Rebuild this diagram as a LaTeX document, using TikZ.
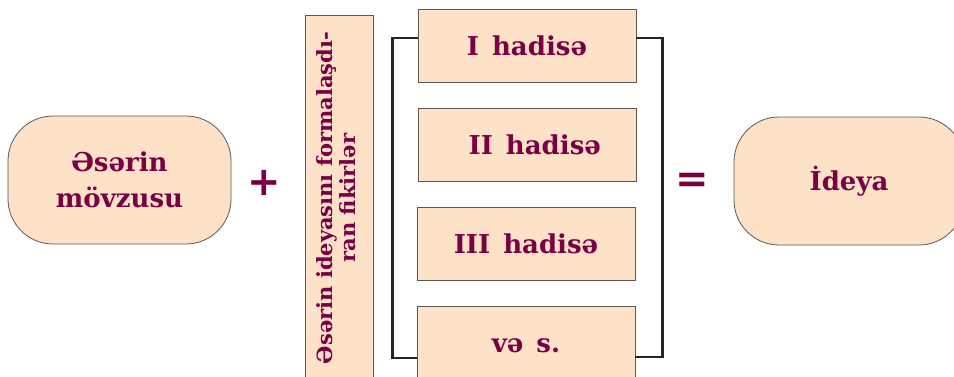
\documentclass[tikz,border=0pt]{standalone}
\usepackage{fontspec}
\setmainfont{DejaVu Serif}
\newfontfamily\symfont{DejaVu Sans}
\definecolor{txt}{RGB}{122,0,68}
\definecolor{peach}{RGB}{253,226,200}
\begin{document}
\begin{tikzpicture}[x=1pt,y=-1pt,
  box/.style={draw=black!65, line width=0.8pt, fill=peach, inner sep=0pt,
    text=txt, font=\bfseries\fontsize{26}{36}\selectfont, align=center},
  rbox/.style={box, rounded corners=45pt},
  evbox/.style={box, minimum width=218pt, minimum height=73pt},
  brk/.style={line width=2.6pt, draw=black!85},
  sym/.style={text=txt, font=\symfont\bfseries\fontsize{40}{40}\selectfont, inner sep=0pt}]
\useasboundingbox (0,0) rectangle (954,377);
\clip (0,0) rectangle (954,377);

\node[rbox, minimum width=223pt, minimum height=128pt] (topic) at (119.5,180) {Əsərin\\mövzusu};
\node[sym] (plus) at (264,183) {+};
\node[box, minimum width=68pt, minimum height=376pt] (ideas) at (339,203.5)
  {\rotatebox{90}{\hspace{11pt}\fontsize{21}{23}\selectfont\begin{tabular}{@{}c@{}}Əsərin ideyasını formalaşdı-\\ran fikirlər\end{tabular}}};
\node[evbox] (e1) at (527,45.5) {I\hspace{0.5em}hadisə};
\node[evbox] (e2) at (527,144.5) {\hspace{0.6em}II\hspace{0.5em}hadisə};
\node[evbox] (e3) at (526,243.5) {III\hspace{0.5em}hadisə};
\node[evbox, minimum height=80pt] (e4) at (526,346) {və\hspace{0.5em}s.};
\node[sym] (eq) at (692,183) {=};
\node[rbox, minimum width=230pt, minimum height=128pt] (idea) at (849,181) {İdeya};

\coordinate (l1) at ([yshift=7.5pt]e1.west);
\coordinate (l4) at ([yshift=-12pt]e4.west);
\coordinate (r1) at ([yshift=7.5pt]e1.east);
\coordinate (r4) at ([yshift=-11pt]e4.east);
\draw[brk] (l1) -- ++(-25,0) |- (l4);
\draw[brk] (r1) -- ++(26,0) |- (r4);
\end{tikzpicture}
\end{document}
